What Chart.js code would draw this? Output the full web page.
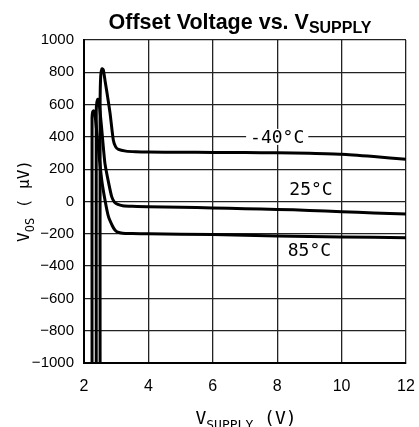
<!DOCTYPE html>
<html lang="en">
  <head>
    <meta charset="UTF-8" />
    <title>Offset Voltage vs. VSUPPLY</title>
    <script src="https://cdn.jsdelivr.net/npm/chart.js@4.4.0/dist/chart.umd.min.js"></script>
    <style>
      html, body { margin: 0; padding: 0; background: #fff; }
      .chart-container { width: 419px; height: 427px; }
    </style>
  </head>
  <body>
    <div class="chart-container">
      <canvas id="vosChart"></canvas>
    </div>
    <script>
      // supply voltage (V) / offset voltage (uV)
      const vsM40 = [2.50, 2.50, 2.52, 2.56, 2.60, 2.66, 2.74, 2.81, 2.91, 2.98, 3.07, 3.3, 3.6, 4, 5, 6, 7, 8, 9, 10, 11, 12];
      const vosM40 = [-1000, 600, 780, 822, 815, 740, 640, 546, 381, 340, 322, 312, 308, 306, 305, 304, 303, 302, 298, 292, 278, 262];

      const vs25 = [2.38, 2.38, 2.40, 2.43, 2.47, 2.55, 2.65, 2.76, 2.86, 2.95, 3.05, 3.2, 3.5, 4, 5, 6, 7, 8, 9, 10, 11, 12];
      const vos25 = [-1000, 560, 615, 633, 610, 450, 236, 120, 30, -5, -18, -26, -30, -32, -35, -40, -45, -49, -55, -63, -71, -78];

      const vs85 = [2.25, 2.25, 2.27, 2.30, 2.34, 2.42, 2.55, 2.66, 2.76, 2.88, 2.96, 3.05, 3.2, 3.5, 4, 6, 8, 10, 12];
      const vos85 = [-1000, 520, 555, 562, 540, 380, 133, 0, -94, -150, -176, -190, -196, -198, -200, -205, -213, -220, -224];

      const tempLabels = ["-40°C", "25°C", "85°C"];
      const labelAt = [[8.0, 400], [9.05, 77], [9.0, -300]];

      const toPts = (xs, ys) => xs.map((x, i) => ({ x: x, y: ys[i] }));
      const minus = (v) => String(v).replace("-", "\u2212");

      const line = (label, data) => ({
        label: label,
        data: data,
        borderColor: "#000",
        borderWidth: 3,
        pointRadius: 0,
        fill: false,
        tension: 0.2
      });

      const MONO = "'DejaVu Sans Mono', monospace";
      const SANS = "'Liberation Sans', Arial, sans-serif";

      // draws text pieces in a row, the small ones dropped as subscripts
      function subText(c, parts, cx, y) {
        let total = 0;
        parts.forEach((p) => { c.font = p.font; p.w = c.measureText(p.t).width; total += p.w; });
        let x = cx - total / 2;
        parts.forEach((p) => {
          c.font = p.font;
          c.fillText(p.t, x, y + (p.dy || 0));
          x += p.w;
        });
      }

      const textPlugin = {
        id: "texts",
        afterDraw(chart) {
          const c = chart.ctx;
          const xs = chart.scales.x, ys = chart.scales.y;
          c.save();
          c.fillStyle = "#000";
          c.textAlign = "left";
          c.textBaseline = "alphabetic";

          subText(c, [
            { t: "Offset Voltage vs. V", font: "bold 21.5px " + SANS },
            { t: "SUPPLY", font: "bold 16px " + SANS, dy: 4 }
          ], 240, 29);

          subText(c, [
            { t: "V", font: "18px " + MONO },
            { t: "SUPPLY", font: "13px " + MONO, dy: 5 },
            { t: " (V)", font: "18px " + MONO }
          ], 246, 424);

          c.save();
          c.translate(29, 201);
          c.rotate(-Math.PI / 2);
          subText(c, [
            { t: "V", font: "16px " + MONO },
            { t: "OS", font: "12px " + MONO, dy: 5 },
            { t: " ( \u03BCV)", font: "16px " + MONO }
          ], 0, 0);
          c.restore();

          // curve labels
          c.font = "18px " + MONO;
          c.textAlign = "center";
          c.textBaseline = "middle";
          tempLabels.forEach((txt, i) => {
            const px = xs.getPixelForValue(labelAt[i][0]);
            const py = ys.getPixelForValue(labelAt[i][1]);
            const w = c.measureText(txt).width;
            if (i === 0) {
              c.fillStyle = "#fff";
              c.fillRect(px - w / 2 - 4, py - 8, w + 8, 16);
              c.fillStyle = "#000";
            }
            c.fillText(txt, px, py + 1);
          });
          c.restore();
        }
      };

      new Chart(document.getElementById("vosChart"), {
        type: "line",
        data: {
          datasets: [
            line(tempLabels[0], toPts(vsM40, vosM40)),
            line(tempLabels[1], toPts(vs25, vos25)),
            line(tempLabels[2], toPts(vs85, vos85))
          ]
        },
        options: {
          responsive: true,
          maintainAspectRatio: false,
          animation: false,
          layout: { padding: { top: 40, right: 13, left: 0, bottom: 0 } },
          plugins: {
            legend: { display: false },
            tooltip: { enabled: false }
          },
          scales: {
            x: {
              type: "linear",
              min: 2,
              max: 12,
              afterFit: (s) => { s.height = 64; s.paddingLeft = 0; s.paddingRight = 0; },
              ticks: {
                stepSize: 2,
                padding: 14,
                color: "#000",
                font: { family: SANS, size: 16 }
              },
              grid: { color: "#222", lineWidth: 1.3, drawTicks: false },
              border: { color: "#000", width: 2 }
            },
            y: {
              min: -1000,
              max: 1000,
              afterFit: (s) => { s.width = 84; s.paddingTop = 0; s.paddingBottom = 0; },
              ticks: {
                stepSize: 200,
                padding: 10,
                color: "#000",
                font: { family: SANS, size: 15 },
                callback: (v) => minus(v)
              },
              grid: { color: "#222", lineWidth: 1.3, drawTicks: false },
              border: { color: "#000", width: 2 }
            }
          }
        },
        plugins: [textPlugin]
      });
    </script>
  </body>
</html>
